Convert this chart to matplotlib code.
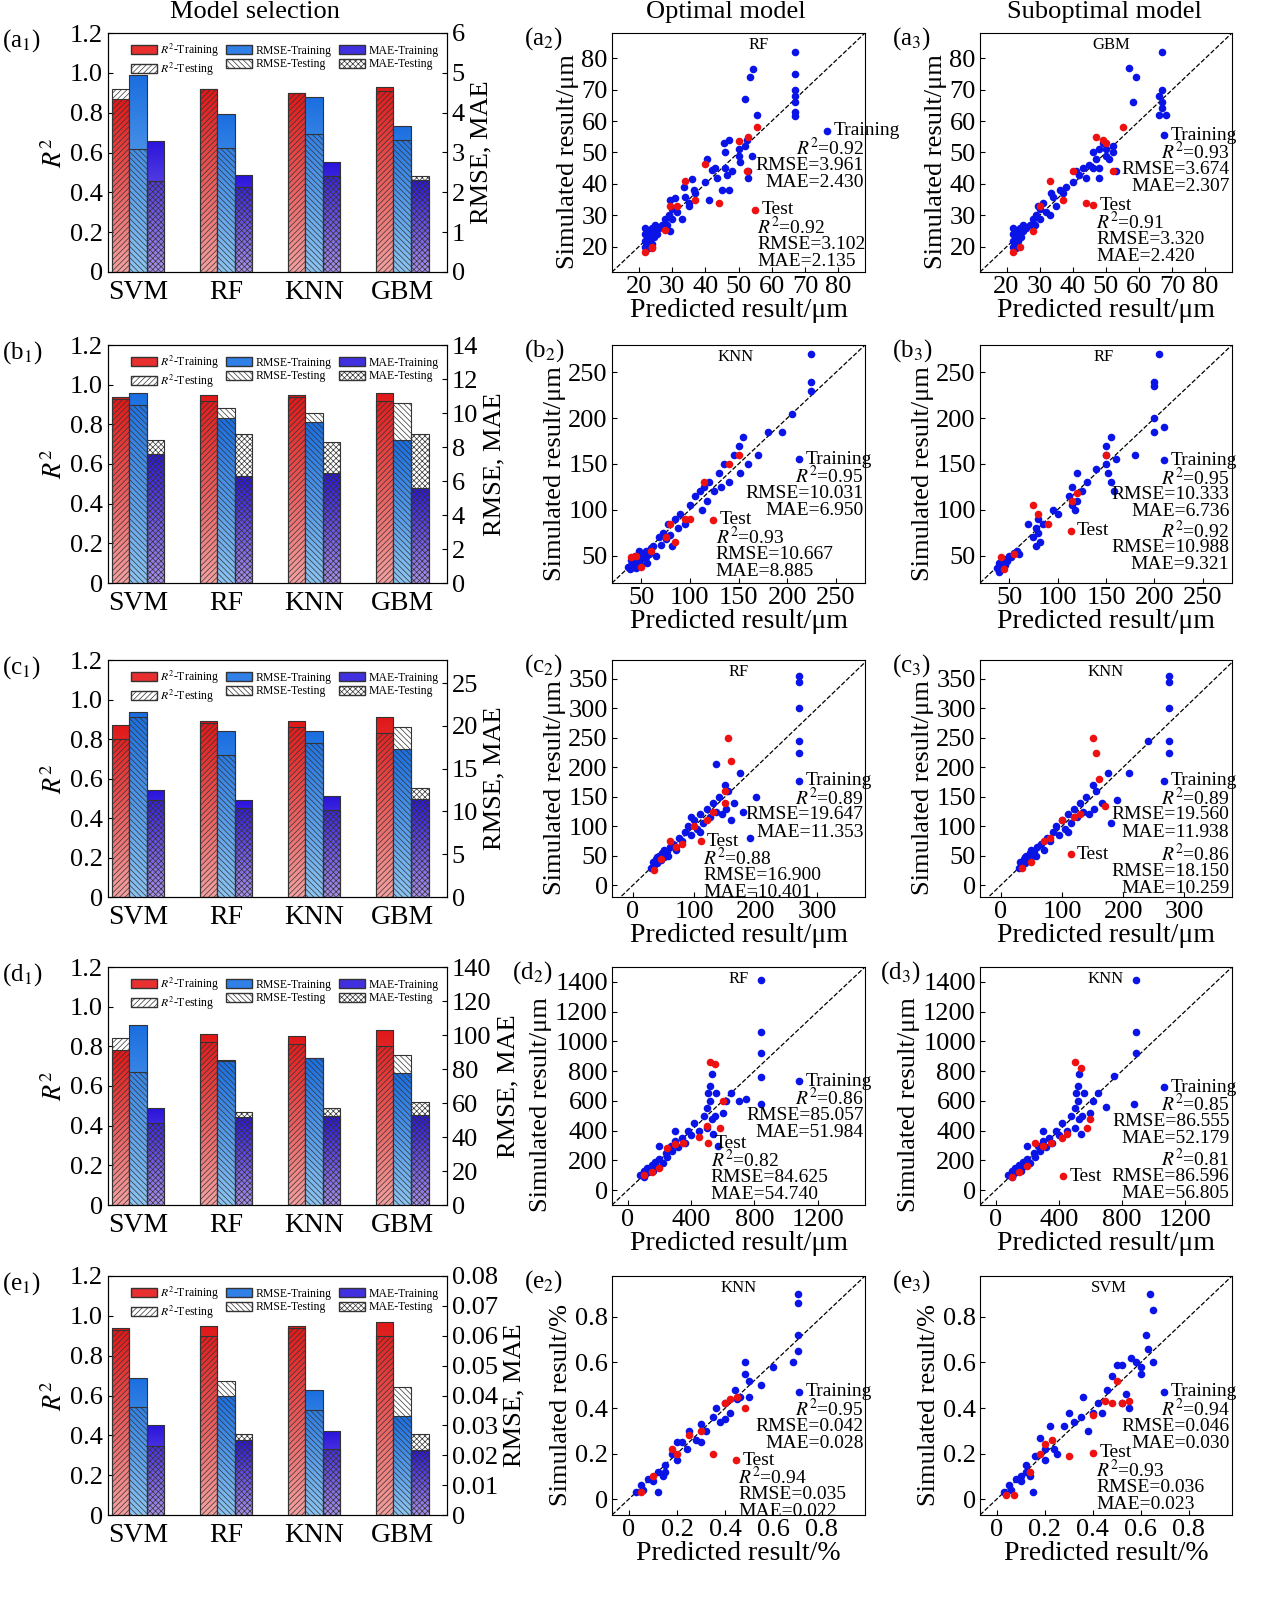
import numpy as np
import matplotlib
matplotlib.use("Agg")
import matplotlib.pyplot as plt
from matplotlib.patches import Patch
from matplotlib.colors import LinearSegmentedColormap

plt.rcParams['font.family'] = ['Liberation Serif', 'DejaVu Serif']
plt.rcParams['mathtext.fontset'] = 'stix'
plt.rcParams['hatch.linewidth'] = 0.5

models = ["SVM", "RF", "KNN", "GBM"]
r2_tr = [[0.87, 0.92, 0.90, 0.93], [0.94, 0.95, 0.95, 0.96], [0.87, 0.89, 0.89, 0.91], [0.78, 0.86, 0.85, 0.88], [0.94, 0.95, 0.95, 0.97]]
r2_te = [[0.92, 0.92, 0.90, 0.91], [0.93, 0.92, 0.94, 0.92], [0.80, 0.88, 0.86, 0.83], [0.84, 0.82, 0.81, 0.80], [0.93, 0.90, 0.94, 0.90]]
rmse_tr = [[4.95, 3.961, 4.40, 3.674], [11.2, 9.7, 9.45, 8.4], [21.6, 19.4, 19.4, 17.3], [106, 85.057, 86.555, 77.6], [0.046, 0.040, 0.042, 0.033]]
rmse_te = [[3.08, 3.102, 3.47, 3.320], [10.5, 10.27, 10.0, 10.56], [21.0, 16.6, 18.0, 19.9], [78, 84.625, 86.596, 88], [0.036, 0.045, 0.035, 0.043]]
mae_tr = [[3.30, 2.430, 2.75, 2.307], [7.6, 6.3, 6.5, 5.6], [12.5, 11.3, 11.8, 11.5], [57, 51.984, 52.179, 53], [0.030, 0.025, 0.028, 0.0217]]
mae_te = [[2.28, 2.135, 2.42, 2.420], [8.4, 8.75, 8.3, 8.75], [11.3, 10.4, 10.2, 12.7], [48, 54.740, 56.805, 60.7], [0.023, 0.027, 0.022, 0.027]]
right_max = [6, 14, 27.7, 140, 0.08]
right_ticks = [[0, 1, 2, 3, 4, 5, 6], [0, 2, 4, 6, 8, 10, 12, 14], [0, 5, 10, 15, 20, 25],
               [0, 20, 40, 60, 80, 100, 120, 140], [0, 0.01, 0.02, 0.03, 0.04, 0.05, 0.06, 0.07, 0.08]]

a2_tr = [(22,20),(22,22),(22,24),(22.5,21),(23,23),(23,25),(23.5,22),(24,24),(24,26),(24.5,23),(25,25),(25,27),(25.5,24),(26,26),(22,26),(23,19.5),(24,21),(27,27),(28,29),(28.5,27),(29,30),(29.5,35),(29.5,25),(30,32),(30,29),(31,35.5),(31.5,31),(33,29),(33.5,39),(34,36),(35,33),(35,34),(36,41.5),(36.5,38),(37,37),(40,40.5),(40.5,48),(41,35),(42,44.5),(43,45),(43.5,42),(45,38),(45.5,53),(46,45),(46,50),(46.5,43),(47,54),(47,38),(48,44),(50,49),(50,51),(50.5,47),(52,67),(52,52),(52.5,54),(53,42),(53,44),(53.5,74),(54,49),(54.5,76.5),(55.5,62),(67,82),(67,75),(67,70),(67,68),(67,66),(67,63),(67,61.5)]
a2_te = [(22,18.5),(24,19.5),(24,20),(28,25.5),(29.5,33),(31.5,33),(34,41),(37,35),(40,46.5),(44,34),(50,53.5),(52.5,44),(53,55),(55.5,58)]
a3_tr = [(22,20),(22,22),(22,24),(22.5,21),(23,23),(23,25),(23.5,22),(24,24),(24,26),(24.5,23),(25,25),(25,27),(26,26),(22,26),(23,19.5),(27,27),(28,29),(28.5,27),(29,30),(29.5,33),(30,32),(30,29),(31,34),(32,31),(33,30),(33.5,37),(34,36),(35,33),(36,38),(37,37),(38,39),(40,40.5),(41,44),(42,43),(43,45),(44,42),(45,46),(46,45),(46,50),(47,48),(48,51),(48,45),(49,53),(50,49),(50,51),(51,48),(52,50),(52,52),(53,44),(48,42),(57,77),(59,74),(58,66),(67,82),(67,70),(66,68),(67,66),(67,64),(68,62),(66,62)]
a3_te = [(22,18.5),(24,20),(28,25),(30,33),(33,41),(37,35),(40,44),(44,34),(47,55),(49,54),(50,53),(52,44),(55,58)]
b2_tr = [(38,35),(40,40),(42,38),(45,44),(48,42),(50,50),(52,47),(55,55),(58,52),(60,58),(40,45),(45,36),(50,40),(55,48),(62,60),(65,50),(68,70),(70,62),(72,75),(75,68),(78,85),(80,72),(82,60),(85,90),(88,80),(90,95),(95,85),(100,105),(105,115),(110,120),(112,100),(115,125),(118,110),(120,130),(125,120),(130,140),(132,125),(135,150),(140,130),(145,160),(150,170),(152,140),(155,180),(160,150),(170,160),(180,185),(195,185),(205,205),(225,270),(225,240),(225,230),(48,55),(56,42),(36,38),(44,50)]
b2_te = [(40,48),(45,50),(50,38),(60,55),(75,70),(80,85),(85,65),(95,90),(100,90),(115,130),(140,150),(150,160)]
b3_tr = [(38,36),(40,42),(42,38),(45,46),(48,44),(50,50),(52,48),(55,53),(40,32),(46,40),(58,55),(60,52),(75,70),(78,80),(78,60),(80,90),(80,75),(82,65),(85,85),(100,95),(112,115),(115,125),(115,105),(118,100),(120,140),(120,110),(125,120),(150,150),(150,170),(152,140),(155,180),(155,130),(158,120),(150,160),(160,155),(200,200),(200,240),(200,235),(200,185),(205,270),(210,190),(180,160),(140,145),(130,130),(95,100),(70,85)]
b3_te = [(42,48),(45,35),(55,52),(75,105),(80,95),(90,85),(115,110),(120,118),(150,160)]
c2_tr = [(30,30),(32,40),(35,35),(38,45),(40,38),(42,50),(45,42),(48,55),(50,48),(55,58),(58,50),(60,65),(65,70),(70,60),(75,80),(80,75),(85,90),(90,100),(95,85),(100,110),(105,95),(110,120),(115,105),(120,130),(125,115),(130,140),(135,125),(140,150),(145,120),(150,170),(152,130),(155,160),(160,110),(165,140),(175,190),(180,125),(200,150),(190,80),(135,205),(270,355),(270,345),(270,300),(270,245),(270,225),(110,90),(95,115),(50,60),(40,48)]
c2_te = [(35,25),(45,45),(60,75),(70,65),(80,70),(100,100),(120,110),(150,140),(150,160),(155,250),(160,210),(130,125)]
c3_tr = [(30,30),(32,40),(35,35),(38,45),(40,38),(42,50),(45,42),(48,55),(50,48),(55,58),(58,50),(60,65),(65,70),(70,60),(75,80),(80,75),(85,90),(90,100),(95,85),(100,110),(105,95),(110,120),(115,105),(120,130),(125,115),(130,140),(135,125),(140,150),(145,120),(150,170),(152,130),(155,160),(165,140),(175,190),(190,145),(180,105),(210,190),(240,245),(275,355),(275,345),(275,300),(275,245),(275,225),(110,90),(50,60),(40,48)]
c3_te = [(35,30),(50,40),(70,75),(80,80),(100,110),(130,120),(150,250),(155,225),(160,180),(170,135),(120,115)]
d2_tr = [(80,100),(100,90),(100,130),(110,110),(120,150),(130,120),(140,140),(150,170),(160,130),(170,190),(180,160),(200,210),(220,180),(240,250),(250,220),(270,300),(280,260),(300,330),(320,290),(340,350),(360,320),(380,400),(400,370),(420,450),(450,400),(480,500),(500,550),(500,420),(510,650),(520,700),(520,600),(530,480),(530,780),(540,380),(550,500),(560,650),(570,300),(600,520),(620,600),(650,650),(700,600),(840,1410),(840,1060),(840,920),(840,760),(840,580),(750,610),(200,300),(300,400)]
d2_te = [(100,100),(150,120),(200,150),(250,280),(300,310),(350,320),(450,360),(500,430),(520,860),(550,850),(600,600),(580,420)]
d3_tr = [(80,100),(100,90),(100,130),(110,110),(120,150),(130,120),(140,140),(150,170),(160,130),(170,190),(180,160),(200,210),(220,180),(240,250),(250,220),(270,300),(280,260),(300,330),(320,290),(340,350),(360,320),(380,400),(400,370),(420,450),(450,400),(480,500),(500,550),(500,420),(510,650),(520,700),(520,600),(530,480),(530,780),(540,380),(550,500),(560,650),(600,520),(620,600),(650,650),(700,560),(750,770),(890,1410),(890,1060),(890,920),(880,580),(200,300),(300,400)]
d3_te = [(100,90),(150,120),(200,160),(250,320),(300,300),(350,320),(450,380),(500,860),(540,820),(600,480),(580,420),(420,350)]
e2_tr = [(0.03,0.03),(0.05,0.06),(0.06,0.04),(0.08,0.09),(0.1,0.08),(0.12,0.12),(0.14,0.1),(0.15,0.15),(0.18,0.2),(0.2,0.17),(0.22,0.25),(0.24,0.22),(0.25,0.3),(0.28,0.26),(0.3,0.33),(0.32,0.3),(0.35,0.36),(0.36,0.4),(0.38,0.34),(0.4,0.42),(0.42,0.38),(0.44,0.48),(0.46,0.45),(0.48,0.55),(0.48,0.6),(0.5,0.52),(0.5,0.45),(0.55,0.5),(0.6,0.58),(0.7,0.9),(0.7,0.86),(0.7,0.72),(0.7,0.65),(0.68,0.6),(0.12,0.03),(0.2,0.25),(0.3,0.25),(0.4,0.35),(0.45,0.44),(0.15,0.12)]
e2_te = [(0.05,0.03),(0.1,0.1),(0.18,0.22),(0.2,0.2),(0.25,0.28),(0.3,0.3),(0.35,0.2),(0.4,0.42),(0.45,0.45),(0.48,0.4),(0.42,0.44)]
e3_tr = [(0.03,0.03),(0.05,0.06),(0.06,0.04),(0.08,0.09),(0.1,0.08),(0.12,0.12),(0.14,0.1),(0.15,0.03),(0.16,0.19),(0.18,0.27),(0.2,0.17),(0.22,0.32),(0.24,0.22),(0.25,0.2),(0.28,0.32),(0.3,0.38),(0.32,0.34),(0.35,0.36),(0.36,0.45),(0.38,0.3),(0.4,0.38),(0.42,0.42),(0.44,0.38),(0.46,0.48),(0.48,0.54),(0.5,0.59),(0.52,0.59),(0.52,0.42),(0.54,0.46),(0.55,0.4),(0.56,0.62),(0.58,0.6),(0.6,0.55),(0.6,0.58),(0.62,0.72),(0.63,0.66),(0.64,0.9),(0.65,0.83),(0.65,0.6),(0.2,0.22),(0.1,0.1),(0.12,0.15)]
e3_te = [(0.04,0.02),(0.07,0.02),(0.14,0.12),(0.18,0.2),(0.2,0.24),(0.23,0.26),(0.3,0.19),(0.4,0.37),(0.45,0.43),(0.48,0.42),(0.5,0.52),(0.52,0.42),(0.55,0.43)]

scat = [
    ("a", "RF", a2_tr, a2_te, ("0.92", "3.961", "2.430"), ("0.92", "3.102", "2.135"),
     "GBM", a3_tr, a3_te, ("0.93", "3.674", "2.307"), ("0.91", "3.320", "2.420")),
    ("b", "KNN", b2_tr, b2_te, ("0.95", "10.031", "6.950"), ("0.93", "10.667", "8.885"),
     "RF", b3_tr, b3_te, ("0.95", "10.333", "6.736"), ("0.92", "10.988", "9.321")),
    ("c", "RF", c2_tr, c2_te, ("0.89", "19.647", "11.353"), ("0.88", "16.900", "10.401"),
     "KNN", c3_tr, c3_te, ("0.89", "19.560", "11.938"), ("0.86", "18.150", "10.259")),
    ("d", "RF", d2_tr, d2_te, ("0.86", "85.057", "51.984"), ("0.82", "84.625", "54.740"),
     "KNN", d3_tr, d3_te, ("0.85", "86.555", "52.179"), ("0.81", "86.596", "56.805")),
    ("e", "KNN", e2_tr, e2_te, ("0.95", "0.042", "0.028"), ("0.94", "0.035", "0.022"),
     "SVM", e3_tr, e3_te, ("0.94", "0.046", "0.030"), ("0.93", "0.036", "0.023")),
]
lims = [(12, 88), (20, 280), (-34, 378), (-100, 1500), (-0.07, 0.98)]
ylims = [(12, 88), (20, 280), (-20, 382), (-100, 1500), (-0.07, 0.98)]
xticks = [[20, 30, 40, 50, 60, 70, 80], [50, 100, 150, 200, 250], [0, 100, 200, 300], [0, 400, 800, 1200], [0, 0.2, 0.4, 0.6, 0.8]]
yticks = [[20, 30, 40, 50, 60, 70, 80], [50, 100, 150, 200, 250], [0, 50, 100, 150, 200, 250, 300, 350],
          [0, 200, 400, 600, 800, 1000, 1200, 1400], [0, 0.2, 0.4, 0.6, 0.8]]
unit = ["/μm", "/μm", "/μm", "/μm", "/%"]
ylab_pos = [0.46, 0.46, 0.46, 0.42, 0.46]
ann2 = [(0.85, 0.59, 0.565, 0.26, "below"), (0.74, 0.52, 0.40, 0.265, "below"), (0.74, 0.49, 0.35, 0.236, "below"),
        (0.74, 0.52, 0.38, 0.26, "below"), (0.74, 0.515, 0.49, 0.23, "below")]
ann3 = [(0.73, 0.573, 0.45, 0.28, "below"), (0.73, 0.515, 0.36, 0.22, "side"), (0.73, 0.49, 0.36, 0.18, "side"),
        (0.73, 0.495, 0.33, 0.12, "side3"), (0.73, 0.515, 0.45, 0.26, "below")]
title_x2 = [0.58, 0.49, 0.5, 0.5, 0.5]
title_x3 = [0.52, 0.49, 0.5, 0.5, 0.51]

fig = plt.figure(figsize=(12.61, 16), dpi=100)
W, H = 1261, 1600
rows = [(33, 272), (345, 583), (660, 897), (967, 1205), (1276, 1515)]

def ax_at(l, r, t, b):
    return fig.add_axes([l / W, 1 - b / H, (r - l) / W, (b - t) / H])

cm_r = LinearSegmentedColormap.from_list("r", ["#f4a0a0", "#e01818"])
cm_b = LinearSegmentedColormap.from_list("b", ["#8cc4f2", "#1a6ee0"])
cm_m = LinearSegmentedColormap.from_list("m", ["#a890ec", "#2a14dc"])
grad = np.linspace(0, 1, 100).reshape(-1, 1)

def grad_bars(ax, x, h, cmap, w):
    bars = ax.bar(x, h, w, facecolor="none", edgecolor="#333333", linewidth=0.8, zorder=2)
    for b in bars:
        x0 = b.get_x()
        im = ax.imshow(grad, cmap=cmap, origin="lower", aspect="auto",
                       extent=(x0, x0 + b.get_width(), 0, b.get_height()), zorder=1)
        im.set_clip_path(b)

def hatch_bars(ax, x, h, hatch, w):
    ax.bar(x, h, w, facecolor="none", edgecolor="#333333", hatch=hatch, linewidth=0.8, zorder=3)

FS = 19
for i, (t, b) in enumerate(rows):
    ax = ax_at(108, 447, t, b)
    ax2 = ax.twinx()
    xs = np.arange(4)
    w = 0.2
    grad_bars(ax, xs - w, r2_tr[i], cm_r, w)
    hatch_bars(ax, xs - w, r2_te[i], "//////", w)
    grad_bars(ax2, xs, rmse_tr[i], cm_b, w)
    hatch_bars(ax2, xs, rmse_te[i], "\\\\\\\\\\\\", w)
    grad_bars(ax2, xs + w, mae_tr[i], cm_m, w)
    hatch_bars(ax2, xs + w, mae_te[i], "xxxxxx", w)
    ax.set_xlim(-0.34, 3.51)
    ax.set_ylim(0, 1.2)
    ax2.set_ylim(0, right_max[i])
    ax.set_yticks([0, 0.2, 0.4, 0.6, 0.8, 1.0, 1.2])
    ax.set_yticklabels(["0", "0.2", "0.4", "0.6", "0.8", "1.0", "1.2"])
    ax2.set_yticks(right_ticks[i])
    ax2.set_yticklabels(["{:g}".format(v) for v in right_ticks[i]])
    ax.set_xticks(xs)
    ax.set_xticklabels(models)
    ax.tick_params(axis="x", length=0, labelsize=FS + 1, pad=6)
    ax.tick_params(axis="y", direction="in", labelsize=FS)
    ax2.tick_params(axis="y", direction="in", labelsize=FS)
    ax.set_ylabel("$R^2$", fontsize=FS, labelpad=2)
    ax2.set_ylabel("RMSE, MAE", fontsize=FS)
    handles = [Patch(facecolor="#e83030", edgecolor="#333"), Patch(facecolor="white", edgecolor="#333", hatch="//////"),
               Patch(facecolor="#3080e8", edgecolor="#333"), Patch(facecolor="white", edgecolor="#333", hatch="\\\\\\\\\\\\"),
               Patch(facecolor="#4030e0", edgecolor="#333"), Patch(facecolor="white", edgecolor="#333", hatch="xxxxxx")]
    labels = ["$R^2$-Training", "$R^2$-Testing", "RMSE-Training", "RMSE-Testing", "MAE-Training", "MAE-Testing"]
    ax2.legend(handles, labels, ncol=3, loc="upper right", frameon=False, fontsize=8.5,
               handlelength=2.2, handleheight=0.8, columnspacing=0.6, handletextpad=0.3,
               labelspacing=0.15, borderaxespad=0.3)
    tag = scat[i][0]
    fig.text(2 / W, 1 - (t + 8) / H, "(%s$_1$)" % tag, fontsize=FS - 1, va="center")

    for j, (l, r) in enumerate([(612, 865), (980, 1232)]):
        axs = ax_at(l, r, t, b)
        if j == 0:
            name, tr, te, strn, stst, ann, tx = scat[i][1], scat[i][2], scat[i][3], scat[i][4], scat[i][5], ann2[i], title_x2[i]
        else:
            name, tr, te, strn, stst, ann, tx = scat[i][6], scat[i][7], scat[i][8], scat[i][9], scat[i][10], ann3[i], title_x3[i]
        lo, hi = lims[i]
        ylo, yhi = ylims[i]
        axs.plot([min(lo, ylo), max(hi, yhi)], [min(lo, ylo), max(hi, yhi)], ls="--", color="black", lw=0.9, zorder=1)
        trx, tr_y = zip(*tr)
        tex, te_y = zip(*te)
        axs.scatter(trx, tr_y, s=30, color="#0a14e6", zorder=2, linewidths=0)
        axs.scatter(tex, te_y, s=30, color="#ee1111", zorder=3, linewidths=0)
        axs.set_xlim(lo, hi)
        axs.set_ylim(ylo, yhi)
        axs.set_xticks(xticks[i])
        axs.set_yticks(yticks[i])
        axs.set_xticklabels(["{:g}".format(v) for v in xticks[i]])
        axs.set_yticklabels(["{:g}".format(v) for v in yticks[i]])
        axs.tick_params(direction="in", labelsize=FS, top=False, right=False, pad=3)
        axs.set_xlabel("Predicted result" + unit[i], fontsize=FS + 1, labelpad=0)
        ylab = axs.set_ylabel("Simulated result" + unit[i], fontsize=FS, labelpad=2)
        ylab.set_y(ylab_pos[i])
        axs.text(tx, 0.95, name, transform=axs.transAxes, ha="center", va="center", fontsize=12)
        fs = 14
        dx, dy, ex, ey, mode = ann
        sp = 0.072
        axs.plot([dx], [dy], "o", color="#0a14e6", ms=4.5, transform=axs.transAxes, clip_on=False)
        axs.text(dx + 0.025, dy, "Training", transform=axs.transAxes, va="center", fontsize=fs)
        for k, s in enumerate(["$R^2$=" + strn[0], "RMSE=" + strn[1], "MAE=" + strn[2]]):
            axs.text(0.995 if j == 0 else 0.99, dy - sp * (k + 1), s, transform=axs.transAxes,
                     ha="right", va="center", fontsize=fs, clip_on=False)
        axs.plot([ex], [ey], "o", color="#ee1111", ms=4.5, transform=axs.transAxes, clip_on=False)
        axs.text(ex + 0.025, ey, "Test", transform=axs.transAxes, va="center", fontsize=fs)
        tl = ["$R^2$=" + stst[0], "RMSE=" + stst[1], "MAE=" + stst[2]]
        if mode == "below":
            for k, s in enumerate(tl):
                axs.text(ex + 0.01, ey - sp * (k + 1), s, transform=axs.transAxes, va="center", fontsize=fs)
        else:
            base = ey + (sp if mode == "side3" else 0)
            for k, s in enumerate(tl):
                axs.text(0.99, base - sp * k, s, transform=axs.transAxes, ha="right", va="center", fontsize=fs)
        lx = l - (100 if i == 3 else 88)
        fig.text(lx / W, 1 - (t + 6) / H, "(%s$_%d$)" % (tag, j + 2), fontsize=FS - 1, va="center")

fig.text(255 / W, 1 - 12 / H, "Model selection", ha="center", va="center", fontsize=FS)
fig.text(726 / W, 1 - 12 / H, "Optimal model", ha="center", va="center", fontsize=FS)
fig.text(1104 / W, 1 - 12 / H, "Suboptimal model", ha="center", va="center", fontsize=FS)

fig.savefig("out.png", dpi=100)
